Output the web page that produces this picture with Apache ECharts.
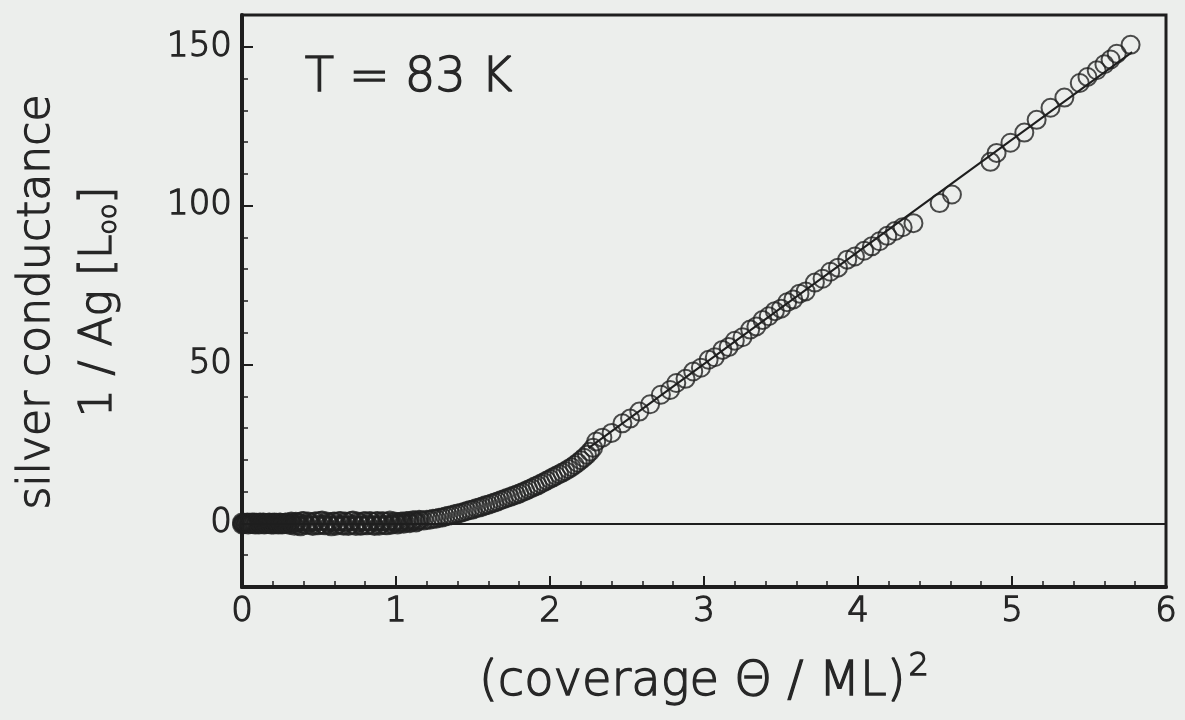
<!DOCTYPE html>
<html>
<head>
<meta charset="utf-8">
<script src="https://cdn.jsdelivr.net/npm/echarts@6/dist/echarts.min.js"></script>
<style>
html,body{margin:0;padding:0;background:#eceeec;}
#chart{width:1185px;height:720px;}
</style>
</head>
<body>
<div id="chart"></div>
<script>
// ---- data ----
const xTickLabels = ['0','1','2','3','4','5','6'];
const yTickLabels = ['0','50','100','150'];

// flat, very dense part near zero
const flatDense = [[0,-0.3],[0,0.3],[0.005,0],[0.01,-0.2],[0.015,0.2],[0.02,0],[0.025,-0.1],[0.03,0.1],[0.035,0.3],[0.04,-0.3],
  [0.045,0.1],[0.05,0.2],[0.055,-0.2],[0.06,0],[0.065,0.3],[0.07,-0.2],[0.075,0.1],[0.08,0.3],[0.085,-0.3],[0.09,-0.1],
  [0.095,0.2],[0.10,0.1],[0.105,-0.2],[0.11,-0.3],[0.115,0.3],[0.12,0.2],[0.125,-0.1],[0.13,0],[0.135,0.2],[0.14,0.3],
  [0.145,-0.3],[0.15,-0.2],[0.155,0.1],[0.16,0.1],[0.165,-0.2],[0.17,-0.1],[0.175,0.3],[0.18,0.2],[0.185,-0.1],[0.19,-0.3],
  [0.195,0.2],[0.20,0],[0.205,-0.3],[0.21,0.3],[0.215,0.1],[0.22,-0.2],[0.225,0.2],[0.23,0.1],[0.235,-0.3],[0.24,-0.1],
  [0.245,0.3],[0.25,0.2],[0.255,-0.2],[0.26,-0.3],[0.265,0.1],[0.27,0],[0.275,-0.1],[0.28,0.2],[0.285,0.3],[0.29,-0.2],
  [0.295,0],[0.30,0.1]];
// flat part with two rows of circles
const flatRows = [[0.31,-0.5],[0.315,0.4],[0.32,0.6],[0.33,-0.2],[0.34,-0.7],[0.345,0.2],[0.35,0.5],[0.36,0.4],[0.37,-0.6],[0.375,0.1],
  [0.38,-0.9],[0.39,0.7],[0.40,0.8],[0.41,-0.3],[0.42,-0.5],[0.43,0.6],[0.44,0.3],[0.45,-0.5],[0.46,-0.8],[0.47,0.5],
  [0.48,0.7],[0.49,-0.6],[0.50,-0.4],[0.51,0.8],[0.52,0.9],[0.53,-0.4],[0.54,-0.6],[0.55,0.6],[0.56,0.2],[0.57,-0.5],
  [0.58,-0.9],[0.59,0.5],[0.60,0.6],[0.61,-0.7],[0.62,-0.3],[0.63,0.7],[0.64,0.8],[0.65,-0.5],[0.66,-0.7],[0.67,0.6],
  [0.68,0.4],[0.69,-0.8],[0.70,-0.5],[0.71,0.8],[0.72,0.9],[0.73,-0.4],[0.74,-0.8],[0.75,0.6],[0.76,0.3],[0.77,-0.7],
  [0.78,-0.6],[0.79,0.7],[0.80,0.7],[0.81,-0.6],[0.82,-0.4],[0.83,0.8],[0.84,0.5],[0.85,-0.5],[0.86,-0.8],[0.87,0.6],
  [0.88,0.8],[0.89,-0.7],[0.90,-0.3],[0.91,0.7],[0.92,0.6],[0.93,-0.5],[0.94,-0.6],[0.95,0.5],[0.96,0.9],[0.97,-0.4],
  [0.98,-0.2],[0.99,0.6]];
// onset curve
const onset = [[1.00,0.4],[1.01,-0.3],[1.02,0.0],[1.03,0.5],[1.04,0.6],[1.05,-0.1],[1.06,0.2],[1.07,0.8],[1.08,0.7],[1.09,0.1],
  [1.10,0.4],[1.11,1.0],[1.12,0.9],[1.13,0.3],[1.14,0.6],[1.15,1.2],[1.16,1.0],[1.18,0.9],
  [1.20,1.2],[1.22,1.2],[1.24,1.5],[1.26,1.5],[1.28,1.8],[1.30,1.9],[1.32,2.2],[1.34,2.4],[1.36,2.6],[1.38,2.9],
  [1.40,3.1],[1.42,3.3],[1.44,3.6],[1.46,3.9],[1.48,4.2],[1.50,4.4],[1.52,4.8],[1.54,5.0],[1.56,5.3],[1.58,5.7],
  [1.60,5.9],[1.62,6.3],[1.64,6.6],[1.66,6.9],[1.68,7.3],[1.70,7.6],[1.72,8.0],[1.74,8.3],[1.76,8.7],[1.78,9.0],
  [1.80,9.4],[1.82,9.8],[1.84,10.2],[1.86,10.7],[1.88,11.1],[1.90,11.6],[1.92,12.0],[1.94,12.5],[1.96,13.0],[1.98,13.5],
  [2.00,14.0],[2.02,14.5],[2.04,15.0],[2.06,15.5],[2.08,16.0],[2.10,16.5],[2.12,17.1],[2.14,17.7],[2.16,18.4],[2.18,19.1],
  [2.20,19.9],[2.22,20.7],[2.24,21.6],[2.26,22.6],[2.28,23.8]];
// linear regime
const linear = [[2.30,25.8],[2.34,27.0],[2.40,28.5],[2.47,31.5],[2.52,33.0],[2.58,35.2],[2.65,37.5],[2.72,40.5],[2.78,42.0],[2.82,44.2],
  [2.88,45.5],[2.93,47.8],[2.98,49.0],[3.03,51.5],[3.07,52.3],[3.12,54.6],[3.16,55.5],[3.20,57.5],[3.25,58.6],[3.30,61.0],
  [3.34,62.0],[3.38,64.0],[3.42,65.2],[3.46,66.8],[3.50,67.6],[3.54,69.6],[3.58,70.5],[3.62,72.3],[3.66,73.0],[3.72,75.8],
  [3.77,77.0],[3.82,79.2],[3.87,80.5],[3.93,83.0],[3.98,84.0],[4.04,85.8],[4.09,87.2],[4.14,88.8],[4.19,90.5],[4.24,92.0],
  [4.29,93.2],[4.36,94.5],[4.53,100.8],[4.61,103.5],[4.86,113.8],[4.90,116.6],[4.99,119.8],[5.08,123.0],[5.16,127.0],[5.25,130.8],
  [5.34,134.0],[5.44,138.6],[5.49,140.5],[5.55,142.6],[5.60,144.5],[5.64,146.0],[5.68,147.8],[5.77,150.6]];
// fitted straight line
const fitX = [2.25, 5.78];
const fitY = [23.7, 148.3];
// zero reference
const zeroLevel = 0;

const FONT = '"DejaVu Sans", sans-serif';
const W = '200';
const INK = '#1e1e1e';
const TXT = '#262626';
const TB = 1.3; // text outline to thicken the light face

const chart = echarts.init(document.getElementById('chart'), null, {renderer:'canvas'});
const points = flatDense.concat(flatRows, onset, linear);

chart.setOption({
  backgroundColor: '#eceeec',
  animation: false,
  grid: {left: 242, right: 19, top: 15, bottom: 133, show: true, borderColor: INK, borderWidth: 3, backgroundColor: 'transparent'},
  xAxis: {
    type: 'value', min: 0, max: 6, interval: 1,
    axisLine: {show: true, onZero: false, lineStyle: {color: INK, width: 4}},
    axisTick: {show: true, inside: true, length: 11, lineStyle: {color: INK, width: 2}},
    minorTick: {show: true, splitNumber: 5, length: 6, lineStyle: {color: INK, width: 1.5}},
    splitLine: {show: false},
    axisLabel: {color: TXT, fontFamily: FONT, fontWeight: W, fontSize: 34, margin: 8,
      textBorderColor: TXT, textBorderWidth: TB,
      formatter: v => xTickLabels[Math.round(v)] ?? ''},
    name: '{m|(coverage \u0398 / ML)}{s|2}', nameLocation: 'middle', nameGap: 64,
    nameTextStyle: {color: TXT, fontFamily: FONT, fontWeight: W, fontSize: 48,
      rich: {m: {fontFamily: FONT, fontWeight: W, fontSize: 48, color: TXT, textBorderColor: TXT, textBorderWidth: TB, verticalAlign: 'bottom', lineHeight: 56},
             s: {fontFamily: FONT, fontWeight: W, fontSize: 32, color: TXT, textBorderColor: TXT, textBorderWidth: TB, verticalAlign: 'top', lineHeight: 56, padding: [0,0,0,3]}}}
  },
  yAxis: [{
    type: 'value', min: -20, max: 160, splitNumber: 4,
    axisLine: {show: true, onZero: false, lineStyle: {color: INK, width: 4}},
    axisTick: {show: true, inside: true, length: 11, lineStyle: {color: INK, width: 2}},
    splitLine: {show: false},
    axisLabel: {color: TXT, fontFamily: FONT, fontWeight: W, fontSize: 34, margin: 10,
      textBorderColor: TXT, textBorderWidth: TB,
      formatter: v => yTickLabels.includes(String(v)) ? String(v) : ''}
  }, {
    type: 'value', min: -20, max: 160, interval: 10, position: 'left',
    axisLine: {show: false},
    axisTick: {show: true, inside: true, length: 6, lineStyle: {color: INK, width: 1.5}},
    splitLine: {show: false},
    axisLabel: {show: false}
  }],
  graphic: [
    {type: 'text', left: 304, top: 54, style: {text: 'T = 83 K', font: W + ' 48px ' + FONT, fill: TXT, stroke: TXT, lineWidth: TB}},
    {type: 'text', x: 38, y: 302, rotation: Math.PI/2,
      style: {text: 'silver conductance', font: W + ' 44px ' + FONT, fill: TXT, stroke: TXT, lineWidth: TB, textAlign: 'center', textVerticalAlign: 'middle'}},
    {type: 'text', x: 95, y: 302, rotation: Math.PI/2,
      style: {text: '{m|1 / Ag [L}{s|oo}{m|]}', fill: TXT, textAlign: 'center', textVerticalAlign: 'middle',
        rich: {m: {font: W + ' 44px ' + FONT, fill: TXT, stroke: TXT, lineWidth: TB, verticalAlign: 'bottom', lineHeight: 54},
               s: {font: W + ' 25px ' + FONT, fill: TXT, stroke: TXT, lineWidth: TB, verticalAlign: 'bottom', lineHeight: 46}}}}
  ],
  series: [
    {
      type: 'line', data: [], yAxisIndex: 0, silent: true,
      markLine: {symbol: 'none', silent: true, label: {show: false},
        lineStyle: {color: INK, width: 2, type: 'solid'}, data: [{yAxis: zeroLevel}]}
    },
    {
      type: 'scatter', yAxisIndex: 0, clip: false, data: points, symbol: 'circle', symbolSize: 18,
      itemStyle: {color: 'rgba(0,0,0,0)', borderColor: '#202020', borderWidth: 2}
    },
    {
      type: 'line', yAxisIndex: 0, data: fitX.map((x, i) => [x, fitY[i]]), symbol: 'none',
      lineStyle: {color: INK, width: 2}
    }
  ]
});
</script>
</body>
</html>
